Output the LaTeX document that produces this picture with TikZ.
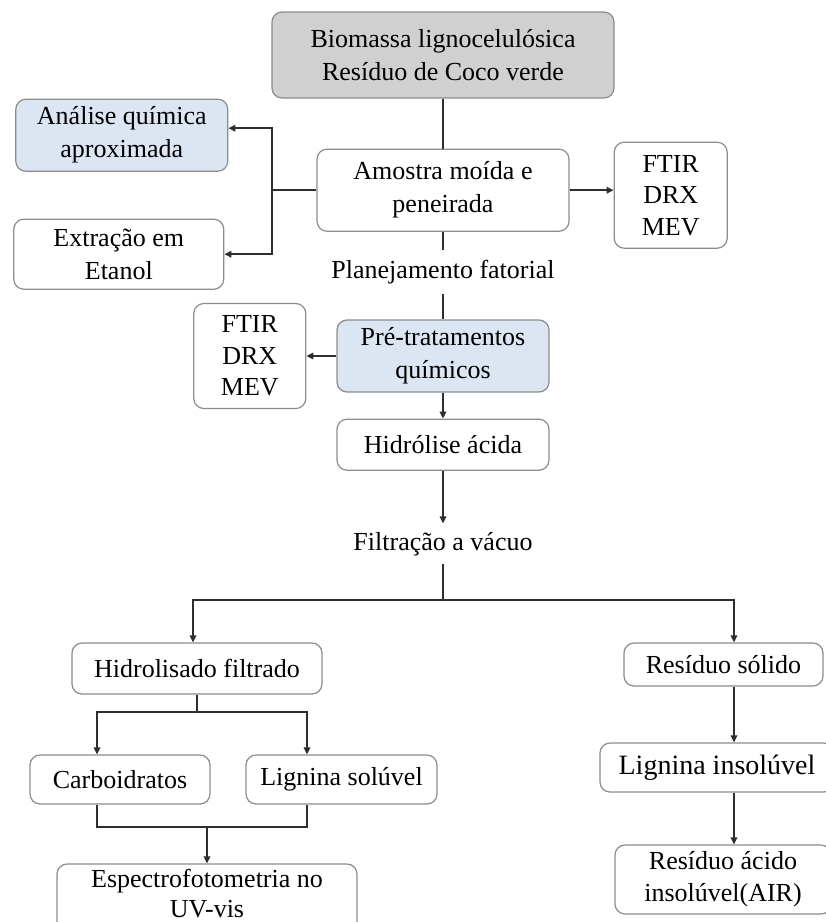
\documentclass[tikz,border=0pt]{standalone}
\usepackage{fontspec}
\setmainfont{Liberation Serif}
\usepackage{tikz}
\usetikzlibrary{positioning,arrows.meta,calc}
\definecolor{edge}{HTML}{2E2E2E}
\definecolor{frame}{HTML}{8C8C8C}
\definecolor{bluefill}{HTML}{DCE6F2}
\definecolor{grayfill}{HTML}{D0D0D0}
\tikzset{
  box/.style={rounded corners=10pt,draw=frame,line width=1.2pt,fill=white,align=center,inner sep=0pt,font=\fontsize{26}{33}\selectfont},
  topbox/.style={box,fill=grayfill},
  bluebox/.style={box,fill=bluefill},
  flowtext/.style={font=\fontsize{26}{32}\selectfont,inner xsep=2pt,inner ysep=4pt},
  arrow/.style={-{Triangle[length=7pt,width=6.5pt]},draw=edge,line width=1.9pt},
  link/.style={draw=edge,line width=1.9pt}
}

\begin{document}
\begin{tikzpicture}[x=1pt,y=-1pt]
  \useasboundingbox (0,0) rectangle (826,922);
  \node[topbox,minimum width=342pt,minimum height=86pt] (biomassa) at (443,55) {Biomassa lignocelulósica\\Resíduo de Coco verde};
  \node[box,minimum width=252pt,minimum height=82pt,below=50pt of biomassa] (amostra) {Amostra moída e\\peneirada};
  \node[box,minimum width=113pt,minimum height=106pt,right=44pt of amostra,yshift=-5pt,font=\fontsize{26}{31.5}\selectfont] (ftirA) {FTIR\\DRX\\MEV};
  \node[bluebox,minimum width=212pt,minimum height=72pt,left=88pt of amostra,yshift=55pt] (analise) {Análise química\\aproximada};
  \node[box,minimum width=210pt,minimum height=70pt,left=92pt of amostra,yshift=-64pt] (extracao) {Extração em\\Etanol};
  \node[flowtext,inner ysep=6pt] (planej) at (443,272) {\strut Planejamento fatorial};
  \node[bluebox,minimum width=212pt,minimum height=72pt] (pre) at (443,356) {Pré-tratamentos\\químicos};
  \node[box,minimum width=112pt,minimum height=105pt,left=30pt of pre,font=\fontsize{26}{31.5}\selectfont] (ftirB) {FTIR\\DRX\\MEV};
  \node[box,minimum width=212pt,minimum height=51pt,below=26pt of pre] (hidrolise) {Hidrólise ácida};
  \node[flowtext] (filtracao) at (443,543.6) {\strut Filtração a vácuo};
  \coordinate (split) at (443,600);
  \coordinate (lcol) at (193,0);
  \coordinate (rcol) at (734,0);
  \node[box,minimum width=250pt,minimum height=51pt] (hidrolisado) at (197,668.5) {Hidrolisado filtrado};
  \node[box,minimum width=199pt,minimum height=43pt] (residuo) at (723.5,664.5) {Resíduo sólido};
  \node[box,minimum width=180pt,minimum height=49pt] (carbo) at (120,779.5) {Carboidratos};
  \node[box,minimum width=191pt,minimum height=49pt] (ligsol) at (341.5,779.5) {Lignina solúvel};
  \node[box,minimum width=300pt,minimum height=72pt,font=\fontsize{26}{30}\selectfont,text depth=14pt] (espectro) at (207,900) {Espectrofotometria no\\UV-vis};
  \node[box,minimum width=234pt,minimum height=49pt,font=\fontsize{28}{33}\selectfont] (liginsol) at (717,767.5) {Lignina insolúvel};
  \node[box,minimum width=216pt,minimum height=69pt,font=\fontsize{26}{32}\selectfont] (acido) at (723,879.5) {Resíduo ácido\\insolúvel(AIR)};
  \coordinate (ljoin) at (272,189);
  \coordinate (hfork) at (197,712);
  \coordinate (bracket) at (207,827);

  \draw[link] (biomassa) -- (amostra);
  \draw[arrow] (amostra.east) -- (amostra.east -| ftirA.west);
  \draw[link] (amostra.west) -- (amostra.west -| ljoin);
  \draw[arrow] (amostra.west -| ljoin) |- ([yshift=7pt]analise.east);
  \draw[arrow] (amostra.west -| ljoin) |- (extracao.east);
  \draw[link] (amostra) -- (planej);
  \draw[link] (planej) -- (pre);
  \draw[arrow] (pre.west) -- (pre.west -| ftirB.east);
  \draw[arrow] (pre) -- (hidrolise);
  \draw[arrow] (hidrolise) -- (filtracao);
  \draw[link] (filtracao) -- (split);
  \draw[arrow] (split) -| (lcol |- hidrolisado.north);
  \draw[arrow] (split) -| (rcol |- residuo.north);
  \draw[link] (hidrolisado.south) -- (hfork);
  \draw[arrow] (hfork) -| ([xshift=-23pt]carbo.north);
  \draw[arrow] (hfork) -| ([xshift=-34.5pt]ligsol.north);
  \draw[link] ([xshift=-23pt]carbo.south) |- (bracket) -| ([xshift=-34.5pt]ligsol.south);
  \draw[arrow] (bracket) -- (espectro);
  \draw[arrow] (rcol |- residuo.south) -- (rcol |- liginsol.north);
  \draw[arrow] (rcol |- liginsol.south) -- (rcol |- acido.north);
\end{tikzpicture}
\end{document}
